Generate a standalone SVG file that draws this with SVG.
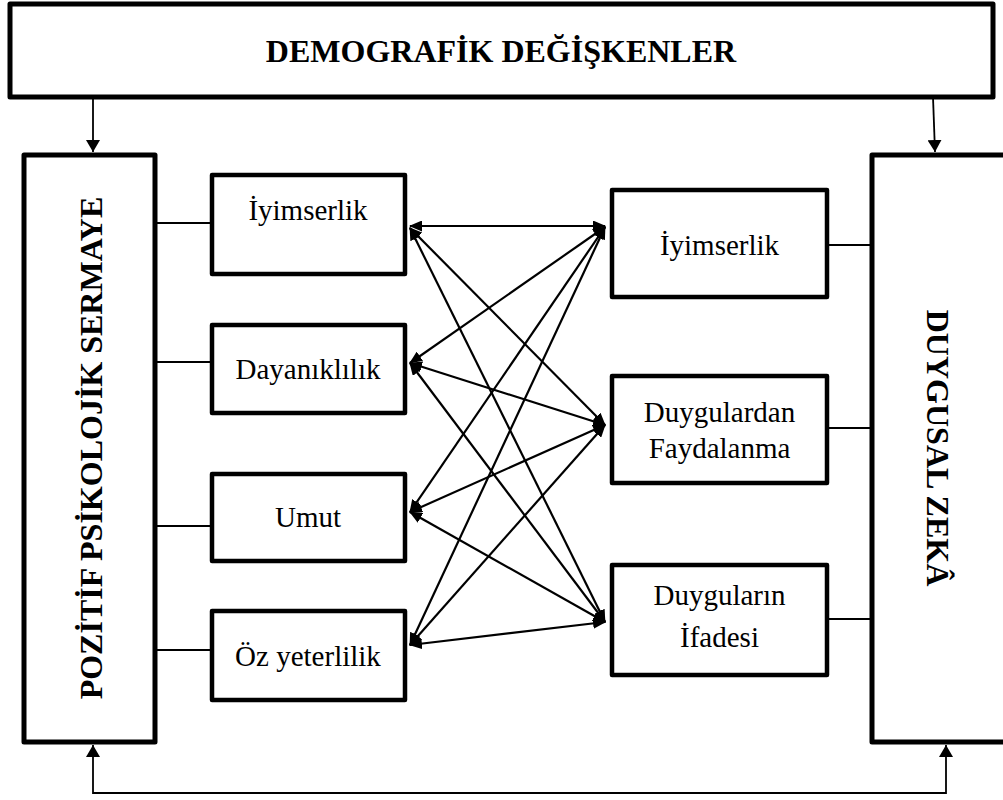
<svg xmlns="http://www.w3.org/2000/svg" width="1003" height="800" viewBox="0 0 1003 800">
<style>
.box{fill:#fff;stroke:#000;stroke-width:4.5;stroke-linejoin:round}
.big{fill:#fff;stroke:#000;stroke-width:5;stroke-linejoin:round}
.t{font-family:"Liberation Serif","Times New Roman",Times,serif;font-size:29px;fill:#000;text-anchor:middle}
.h{font-family:"Liberation Serif","Times New Roman",Times,serif;font-size:32px;font-weight:bold;fill:#000;text-anchor:middle}
.ln{stroke:#000;stroke-width:2;fill:none}
.ar{stroke:#000;stroke-width:2.2;fill:none;marker-start:url(#ah);marker-end:url(#ah)}
.ar1{stroke:#000;stroke-width:1.8;fill:none}
</style>
<defs>
<marker id="ah" viewBox="0 0 13 11" refX="12" refY="5.5" markerWidth="13" markerHeight="11" markerUnits="userSpaceOnUse" orient="auto-start-reverse">
<path d="M0,0 L13,5.5 L0,11 Z" fill="#000"/>
</marker>
<marker id="ah2" viewBox="0 0 12 14" refX="12" refY="7" markerWidth="12" markerHeight="14" markerUnits="userSpaceOnUse" orient="auto-start-reverse">
<path d="M0,0 L12,7 L0,14 Z" fill="#000"/>
</marker>
</defs>

<g id="demografik">
<rect class="big" x="10" y="4" width="983" height="93"/>
<text class="h" x="501" y="62">DEMOGRAFİK DEĞİŞKENLER</text>
</g>

<g id="pozitif">
<rect class="big" x="24" y="155" width="131" height="587"/>
<text class="h" transform="translate(102,448) rotate(-90)">POZİTİF PSİKOLOJİK SERMAYE</text>
</g>

<g id="duygusal">
<rect class="big" x="872" y="155" width="200" height="587"/>
<text class="h" transform="translate(927,448) rotate(90)">DUYGUSAL ZEKÂ</text>
</g>

<g id="l-iyimserlik">
<rect class="box" x="212" y="175" width="193" height="99"/>
<text class="t" x="308" y="220">İyimserlik</text>
</g>
<g id="l-dayaniklilik">
<rect class="box" x="212" y="325" width="193" height="88"/>
<text class="t" x="308" y="379">Dayanıklılık</text>
</g>
<g id="l-umut">
<rect class="box" x="212" y="474" width="193" height="87"/>
<text class="t" x="308" y="527">Umut</text>
</g>
<g id="l-ozyeterlilik">
<rect class="box" x="212" y="611" width="193" height="89"/>
<text class="t" x="308" y="666">Öz yeterlilik</text>
</g>

<g id="r-iyimserlik">
<rect class="box" x="612" y="190" width="215" height="107"/>
<text class="t" x="719.5" y="255">İyimserlik</text>
</g>
<g id="r-faydalanma">
<rect class="box" x="612" y="376" width="215" height="107"/>
<text class="t" x="719.5" y="422">Duygulardan</text>
<text class="t" x="719.5" y="458">Faydalanma</text>
</g>
<g id="r-ifade">
<rect class="box" x="612" y="565" width="215" height="110"/>
<text class="t" x="719.5" y="605">Duyguların</text>
<text class="t" x="719.5" y="647">İfadesi</text>
</g>

<g id="connectors">
<line class="ar1" x1="93" y1="97" x2="93" y2="152" marker-end="url(#ah2)"/>
<line class="ar1" x1="933" y1="97" x2="935" y2="152" marker-end="url(#ah2)"/>
<path class="ar1" d="M93,745 V793 H946 V745" marker-start="url(#ah2)" marker-end="url(#ah2)"/>

<line class="ln" x1="157" y1="223" x2="210" y2="223"/>
<line class="ln" x1="157" y1="362" x2="210" y2="362"/>
<line class="ln" x1="157" y1="526" x2="210" y2="526"/>
<line class="ln" x1="157" y1="650" x2="210" y2="650"/>
<line class="ln" x1="829" y1="245" x2="870" y2="245"/>
<line class="ln" x1="829" y1="428" x2="870" y2="428"/>
<line class="ln" x1="829" y1="619" x2="870" y2="619"/>

<line class="ar" x1="410" y1="226" x2="605" y2="226"/>
<line class="ar" x1="410" y1="228" x2="605" y2="425"/>
<line class="ar" x1="410" y1="228" x2="605" y2="622"/>
<line class="ar" x1="410" y1="363" x2="605" y2="227"/>
<line class="ar" x1="410" y1="363" x2="605" y2="425"/>
<line class="ar" x1="410" y1="363" x2="605" y2="622"/>
<line class="ar" x1="410" y1="512" x2="605" y2="227"/>
<line class="ar" x1="410" y1="512" x2="605" y2="425"/>
<line class="ar" x1="410" y1="512" x2="605" y2="622"/>
<line class="ar" x1="410" y1="645" x2="605" y2="227"/>
<line class="ar" x1="410" y1="645" x2="605" y2="425"/>
<line class="ar" x1="410" y1="645" x2="605" y2="622"/>
</g>
</svg>
